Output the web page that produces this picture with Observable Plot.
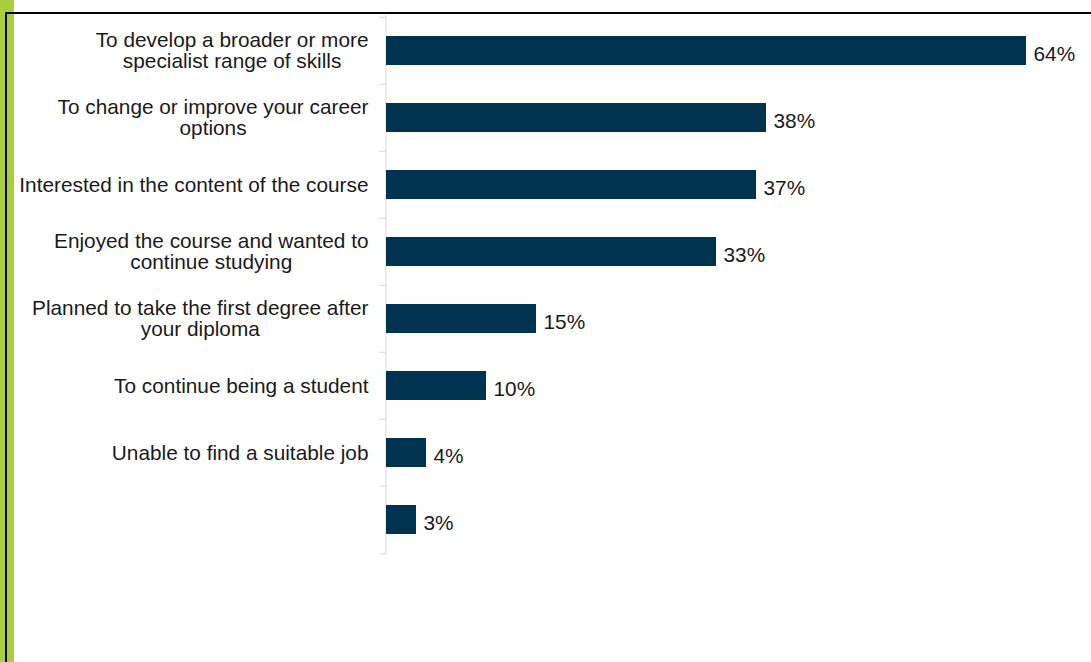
<!DOCTYPE html>
<html>
<head>
<meta charset="utf-8">
<script src="https://cdn.jsdelivr.net/npm/d3@7"></script>
<script src="https://cdn.jsdelivr.net/npm/@observablehq/plot@0.6"></script>
<style>
  html, body { margin: 0; padding: 0; background: #fff; }
  #wrap { position: relative; width: 1091px; height: 662px; overflow: hidden; font-family: "Liberation Sans", Arial, sans-serif; }
  #chart { position: absolute; left: 0; top: 0; }
  .deco { position: absolute; }
</style>
</head>
<body>
<div id="wrap">
  <div class="deco" style="left:0;top:0;width:14px;height:662px;background:#a9d03b;"></div>
  <div class="deco" style="left:5px;top:12px;width:2px;height:650px;background:#000;"></div>
  <div class="deco" style="left:5px;top:12px;width:1086px;height:2px;background:#000;"></div>
  <div id="chart"></div>
</div>
<script>
const categories = [
  "To develop a broader or more\nspecialist range of skills",
  "To change or improve your career\noptions",
  "Interested in the content of the course",
  "Enjoyed the course and wanted to\ncontinue studying",
  "Planned to take the first degree after\nyour diploma",
  "To continue being a student",
  "Unable to find a suitable job",
  ""
];
const values = [64, 38, 37, 33, 15, 10, 4, 3];
const valueLabels = ["64%", "38%", "37%", "33%", "15%", "10%", "4%", "3%"];

const data = categories.map((c, i) => ({category: c, value: values[i], label: valueLabels[i]}));

const W = 1091, H = 662;
const mTop = 15, mBottom = 107, mLeft = 386;
const step = (H - mTop - mBottom) / categories.length;

const plot = Plot.plot({
  width: W,
  height: H,
  marginTop: mTop,
  marginBottom: mBottom,
  marginLeft: mLeft,
  marginRight: 5,
  style: {background: "transparent", fontFamily: "'Liberation Sans', Arial, sans-serif", fontSize: "20.8px", color: "#1a1a1a"},
  x: {domain: [0, 70], axis: null},
  y: {domain: categories, paddingInner: 0.57, paddingOuter: 0.285, axis: null},
  marks: [
    Plot.axisY(categories, {tickSize: 7, tickFormat: null, label: null, stroke: "#d9d9d9", strokeWidth: 1, dy: -step / 2}),
    Plot.axisY([categories[categories.length - 1]], {tickSize: 7, tickFormat: null, label: null, stroke: "#d9d9d9", strokeWidth: 1, dy: step / 2}),
    Plot.ruleX([0], {stroke: "#d9d9d9", strokeWidth: 1, dx: -0.5}),
    Plot.barX(data, {x: "value", y: "category", fill: "#00334f"}),
    Plot.text(data, {x: 0, y: "category", text: "category", textAnchor: "end", dx: -18, lineHeight: 1.01, fill: "#1a1a1a"}),
    Plot.text(data, {x: "value", y: "category", text: "label", textAnchor: "start", dx: 7, dy: 3, fill: "#1a1a1a"})
  ]
});

document.getElementById("chart").appendChild(plot);

// center multi-line category labels within their right-aligned block
plot.querySelectorAll("text").forEach(t => {
  const spans = t.querySelectorAll("tspan");
  if (spans.length > 1) {
    let w = 0;
    spans.forEach(s => { w = Math.max(w, s.getComputedTextLength()); });
    t.setAttribute("text-anchor", "middle");
    t.style.textAnchor = "middle";
    spans.forEach(s => s.setAttribute("x", -w / 2));
  }
});
</script>
</body>
</html>
